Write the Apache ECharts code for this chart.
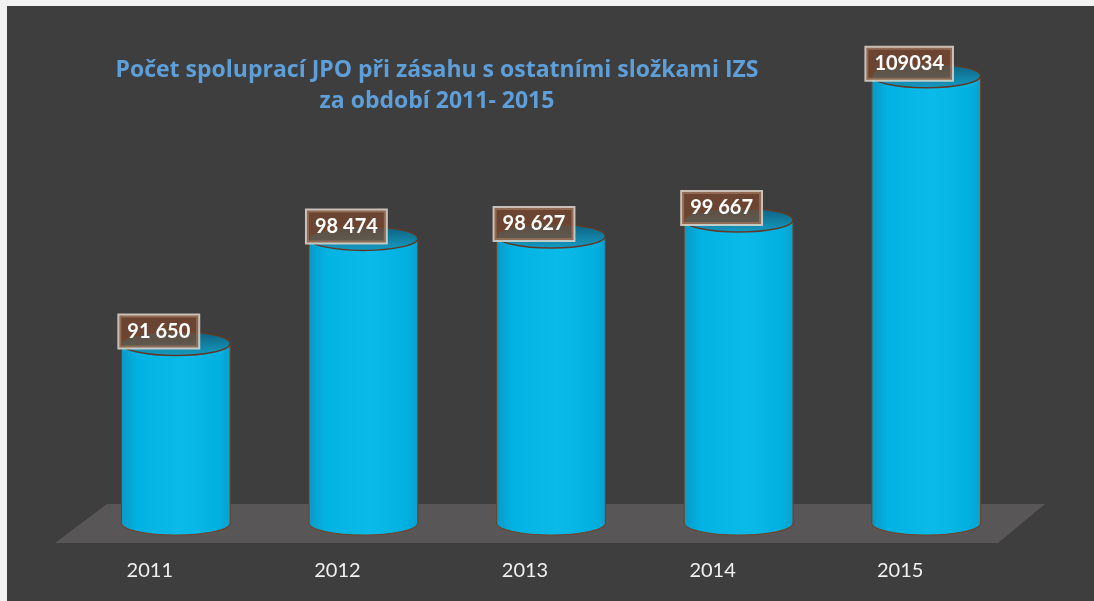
<!DOCTYPE html>
<html lang="cs">
<head>
<meta charset="utf-8">
<title>Počet spoluprací JPO</title>
<script src="https://cdn.jsdelivr.net/npm/echarts@6/dist/echarts.min.js"></script>
<style>
  html, body { margin: 0; padding: 0; background: #fff; }
  #main { width: 1094px; height: 601px; }
</style>
</head>
<body>
<div id="main"></div>
<script>
// data
var years = ['2011', '2012', '2013', '2014', '2015'];
var counts = [91650, 98474, 98627, 99667, 109034];
var countLabels = ['91 650', '98 474', '98 627', '99 667', '109034'];
var axisMin = 80000;
var axisMax = 112000;

var chart = echarts.init(document.getElementById('main'));

var seriesData = [];
for (var i = 0; i < counts.length; i++) {
  seriesData.push([i, counts[i]]);
}

// cylinder = body (rect + bottom half ellipse) + top ellipse + boxed label
function renderCylinder(params, api) {
  var top = api.coord([api.value(0), api.value(1)]);
  var base = api.coord([api.value(0), axisMin]);
  var cx = top[0];
  var rx = api.size([1, 0])[0] * 0.29;
  var ry = 12;
  var bodyPath = 'M' + (cx - rx) + ',' + top[1] +
    ' L' + (cx - rx) + ',' + base[1] +
    ' A' + rx + ',' + ry + ' 0 0 0 ' + (cx + rx) + ',' + base[1] +
    ' L' + (cx + rx) + ',' + top[1] + ' Z';
  var topPath = 'M' + (cx - rx) + ',' + top[1] +
    ' A' + rx + ',' + ry + ' 0 1 0 ' + (cx + rx) + ',' + top[1] +
    ' A' + rx + ',' + ry + ' 0 1 0 ' + (cx - rx) + ',' + top[1] + ' Z';
  return {
    type: 'group',
    children: [
      {
        type: 'path',
        shape: { pathData: bodyPath },
        style: {
          fill: new echarts.graphic.LinearGradient(0, 0, 1, 0, [
            { offset: 0, color: '#0a98c6' },
            { offset: 0.15, color: '#02b2e2' },
            { offset: 0.55, color: '#0abbe9' },
            { offset: 0.9, color: '#02b0e0' },
            { offset: 1, color: '#0a9fcd' }
          ]),
          stroke: 'rgba(120,60,25,0.85)',
          lineWidth: 1.2
        }
      },
      {
        type: 'path',
        shape: { pathData: topPath },
        style: {
          fill: new echarts.graphic.LinearGradient(0, 0, 0, 1, [
            { offset: 0, color: '#0e5f7b' },
            { offset: 1, color: '#159cc5' }
          ]),
          stroke: '#5e3a26',
          lineWidth: 1.5
        }
      },
      {
        type: 'text',
        x: cx - 17,
        y: top[1] - 12,
        style: {
          text: countLabels[params.dataIndex],
          fill: '#ffffff',
          font: 'bold 20px Lato',
          align: 'center',
          verticalAlign: 'middle',
          backgroundColor: 'rgba(125,72,45,0.72)',
          borderColor: 'rgba(225,215,205,0.85)',
          borderWidth: 2,
          padding: [6, 8, 6, 8]
        }
      }
    ]
  };
}

chart.setOption({
  backgroundColor: '#3e3e3e',
  animation: false,
  title: {
    text: 'Počet spoluprací JPO při zásahu s ostatními složkami IZS\nza období 2011- 2015',
    left: 432,
    top: 50,
    textAlign: 'center',
    textStyle: {
      color: '#5e9fd9',
      fontFamily: 'Open Sans',
      fontWeight: 'bold',
      fontSize: 23,
      lineHeight: 31
    }
  },
  graphic: [
    // white edge of the slide
    { type: 'rect', shape: { x: 0, y: 0, width: 1094, height: 6 }, style: { fill: '#f2f2f2' }, z: 0 },
    { type: 'rect', shape: { x: 0, y: 0, width: 7, height: 601 }, style: { fill: '#f2f2f2' }, z: 0 },
    // floor
    {
      type: 'polygon',
      shape: { points: [[55, 543], [107, 504], [1045, 504], [998, 543]] },
      style: { fill: '#585656' },
      z: 0
    }
  ],
  grid: { left: 82, right: 74, top: 30, bottom: 78 },
  xAxis: {
    type: 'category',
    data: years,
    axisLine: { show: false },
    axisTick: { show: false },
    axisLabel: {
      color: '#f0f0f0',
      fontFamily: 'Lato',
      fontSize: 20,
      margin: 38,
      padding: [0, 52, 0, 0]
    }
  },
  yAxis: {
    type: 'value',
    min: axisMin,
    max: axisMax,
    show: false,
    splitLine: { show: false }
  },
  series: [{
    type: 'custom',
    renderItem: renderCylinder,
    data: seriesData,
    z: 5
  }]
});
</script>
</body>
</html>
